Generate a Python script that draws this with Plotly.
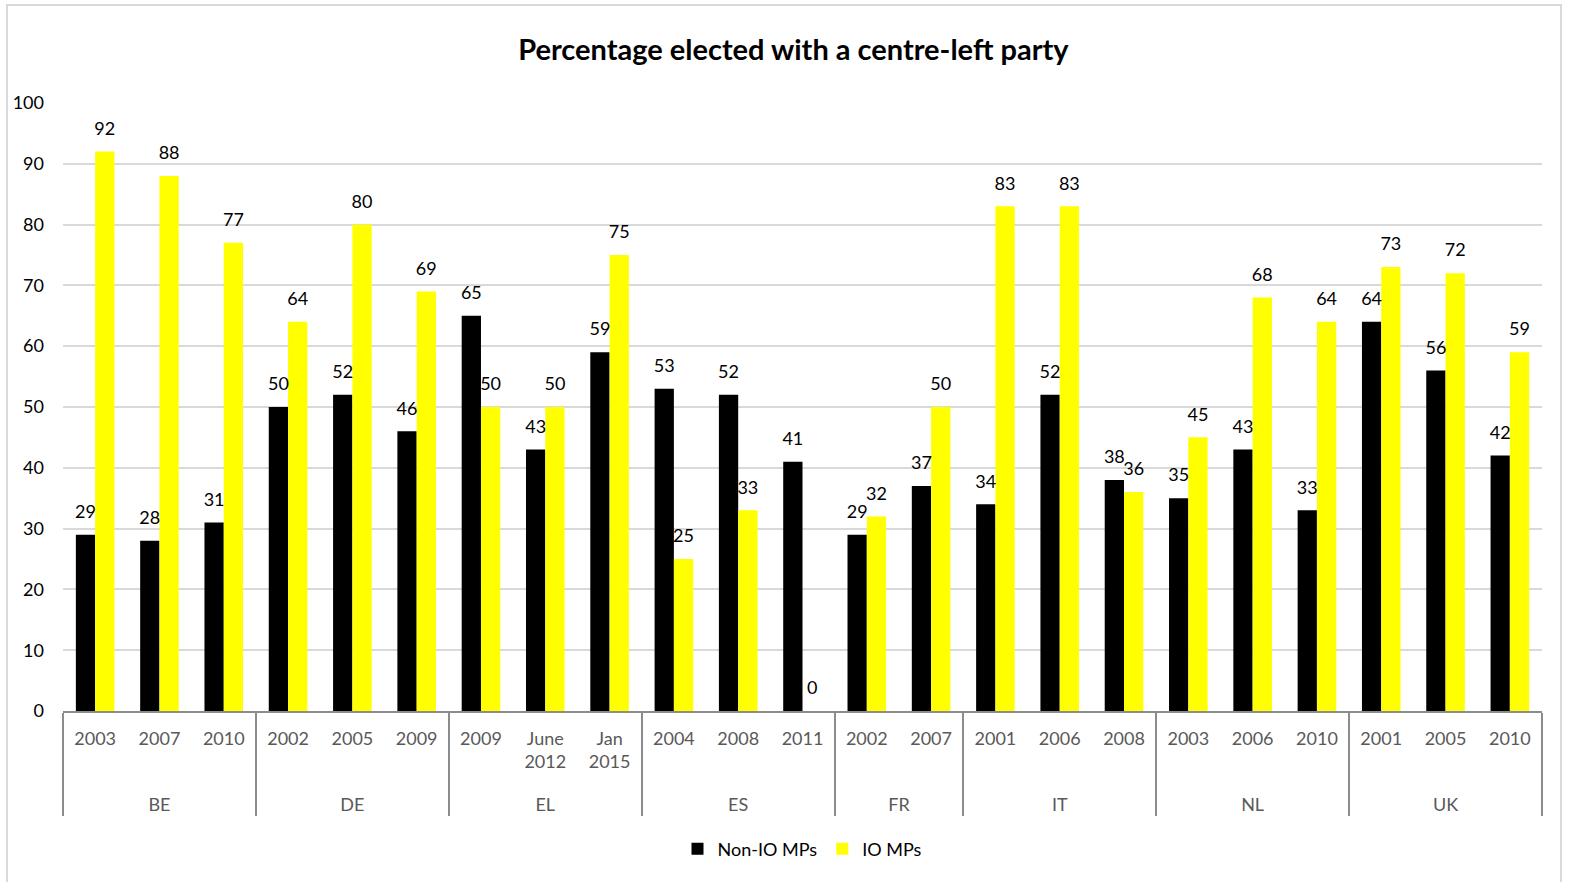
import plotly.graph_objects as go

# Countries and the elections recorded for each
countries = ["BE", "DE", "EL", "ES", "FR", "IT", "NL", "UK"]
elections = [
    ["2003", "2007", "2010"],
    ["2002", "2005", "2009"],
    ["2009", "June<br>2012", "Jan<br>2015"],
    ["2004", "2008", "2011"],
    ["2002", "2007"],
    ["2001", "2006", "2008"],
    ["2003", "2006", "2010"],
    ["2001", "2005", "2010"],
]

# Percentage elected with a centre-left party
non_io_mps = [29, 28, 31, 50, 52, 46, 65, 43, 59, 53, 52, 41, 29, 37,
              34, 52, 38, 35, 43, 33, 64, 56, 42]
io_mps = [92, 88, 77, 64, 80, 69, 50, 50, 75, 25, 33, 0, 32, 50,
          83, 83, 36, 45, 68, 64, 73, 72, 59]

y_ticks = [0, 10, 20, 30, 40, 50, 60, 70, 80, 90, 100]

# Two-level category axis: country / election.
# Plotly orders the inner level by first appearance across all groups, so
# each country's election labels get a distinct zero-width suffix to keep
# them in the listed order.
lvl_country = [c for c, yrs in zip(countries, elections) for _ in yrs]
lvl_year = [y + "\u200b" * i for i, yrs in enumerate(elections) for y in yrs]
# extra room under the longest (two-line) label before the country row
lvl_year = [y + "<br><span style='font-size:46px'>\u00a0</span>"
            if "<br>" in y and y.startswith("June") else y for y in lvl_year]
x = [lvl_country, lvl_year]

FONT = "Lato"
W, H = 1571, 882
L, R, T, B = 63, 29, 102, 171

series = [("Non-IO MPs", non_io_mps, "#000000"),
          ("IO MPs", io_mps, "#FFFF00")]

fig = go.Figure()
for name, vals, col in series:
    fig.add_trace(go.Bar(
        name=name, x=x, y=vals, marker=dict(color=col, line=dict(width=0)),
        hoverinfo="y",
    ))
# value labels sit a little above each bar
for name, vals, col in series:
    fig.add_trace(go.Scatter(
        x=x, y=vals, mode="markers+text", text=[str(v) for v in vals],
        textposition="top center", cliponaxis=False, showlegend=False,
        marker=dict(size=18, opacity=0, color=col), hoverinfo="skip",
        textfont=dict(family=FONT, size=18, color="#000000"),
    ))

pw = W - L - R
ph = H - T - B
fig.add_shape(type="rect", xref="paper", yref="paper",
              x0=(7 - L) / pw, x1=(1561 - L) / pw,
              y0=(H - B - 895) / ph, y1=(H - B - 5) / ph,
              line=dict(color="#d9d9d9", width=2), fillcolor="rgba(0,0,0,0)",
              layer="below")

fig.update_layout(
    width=W, height=H,
    margin=dict(l=L, r=R, t=T, b=B),
    paper_bgcolor="white", plot_bgcolor="white",
    barmode="group", bargap=0.4, bargroupgap=0,
    scattermode="group", scattergap=0.4,
    title=dict(text="<b>Percentage elected with a centre-left party</b>",
               x=0.505, xanchor="center", y=1 - 50 / H, yanchor="middle",
               yref="container",
               font=dict(family=FONT, size=29, color="#000000")),
    legend=dict(orientation="h", x=0.5, xanchor="center",
                y=-138 / ph, yanchor="middle",
                font=dict(family=FONT, size=18, color="#000000"),
                itemwidth=30, traceorder="normal"),
    showlegend=True,
)
fig.update_yaxes(range=[0, 100.15], tickvals=y_ticks, showgrid=True,
                 gridcolor="#d9d9d9", gridwidth=2, zeroline=False,
                 showline=False, ticks="", ticklabelstandoff=18,
                 tickfont=dict(family=FONT, size=18, color="#000000"))
fig.update_xaxes(type="multicategory",
                 showline=True, linecolor="#8c8c8c",
                 linewidth=2, showdividers=True, dividercolor="#8c8c8c",
                 dividerwidth=2, ticks="", ticklabelstandoff=10,
                 tickfont=dict(family=FONT, size=18, color="#595959"))

fig.write_html("out.html")
